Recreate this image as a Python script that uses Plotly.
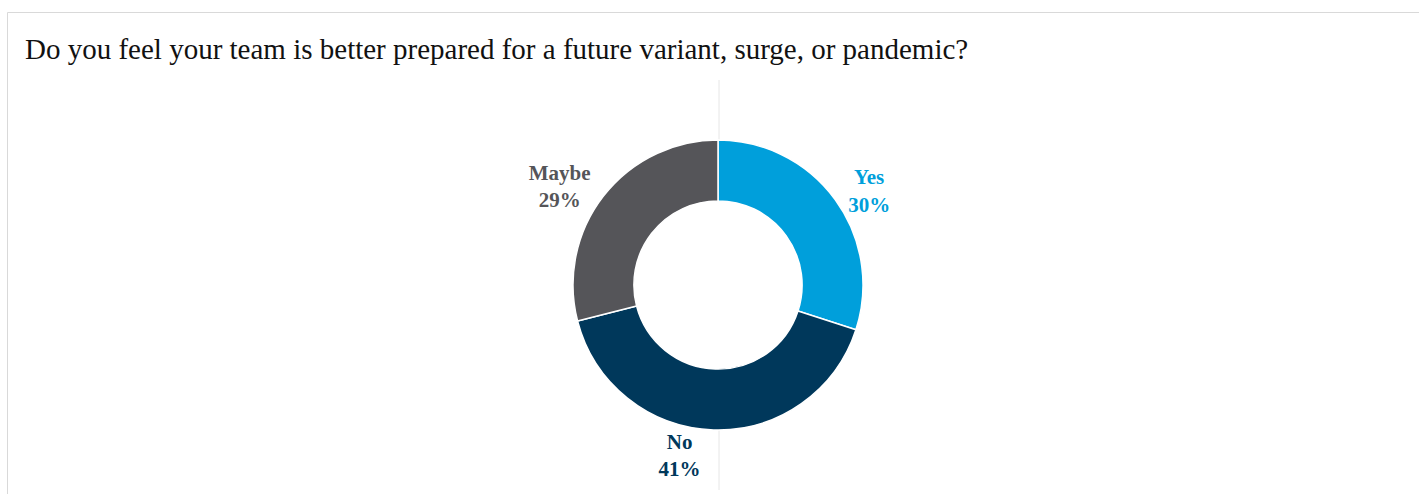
import plotly.graph_objects as go

W, H = 1419, 494

# Survey responses
answers = ["Yes", "No", "Maybe"]
shares = [30, 41, 29]
slice_colors = ["#009FDB", "#00385B", "#555559"]

title_text = "Do you feel your team is better prepared for a future variant, surge, or pandemic?"


def px_x(v):
    return v / W


def px_y(v):
    return 1 - v / H


fig = go.Figure(
    go.Pie(
        labels=answers,
        values=shares,
        hole=0.58,
        sort=False,
        direction="clockwise",
        rotation=0,
        marker=dict(colors=slice_colors, line=dict(color="white", width=1.5)),
        texttemplate="<b>%{label}</b><br><b>%{value}%</b>",
        textposition="outside",
        outsidetextfont=dict(family="Liberation Serif", size=21, color=slice_colors),
        domain=dict(x=[px_x(573), px_x(863)], y=[px_y(430), px_y(140)]),
        showlegend=False,
        hoverinfo="label+percent",
    )
)

axis_line = dict(color="#E6E6E6", width=1)
shapes = [
    # thin axis line above and below the donut
    dict(type="line", xref="paper", yref="paper",
         x0=px_x(719), x1=px_x(719), y0=px_y(80), y1=px_y(140),
         line=axis_line, layer="below"),
    dict(type="line", xref="paper", yref="paper",
         x0=px_x(719), x1=px_x(719), y0=px_y(430), y1=px_y(490),
         line=axis_line, layer="below"),
    # panel frame: top and left edges
    dict(type="line", xref="paper", yref="paper",
         x0=px_x(7.5), x1=1, y0=px_y(12.5), y1=px_y(12.5),
         line=dict(color="#D9D9D9", width=1)),
    dict(type="line", xref="paper", yref="paper",
         x0=px_x(7.5), x1=px_x(7.5), y0=px_y(12.5), y1=0,
         line=dict(color="#D9D9D9", width=1)),
]

fig.update_layout(
    width=W,
    height=H,
    margin=dict(l=0, r=0, t=0, b=0),
    paper_bgcolor="white",
    plot_bgcolor="white",
    shapes=shapes,
    annotations=[
        dict(text=title_text, xref="paper", yref="paper",
             x=px_x(23), y=px_y(49), xanchor="left", yanchor="middle",
             showarrow=False,
             font=dict(family="Liberation Serif", size=29, color="#111111")),
    ],
)

fig.write_html("out.html")
